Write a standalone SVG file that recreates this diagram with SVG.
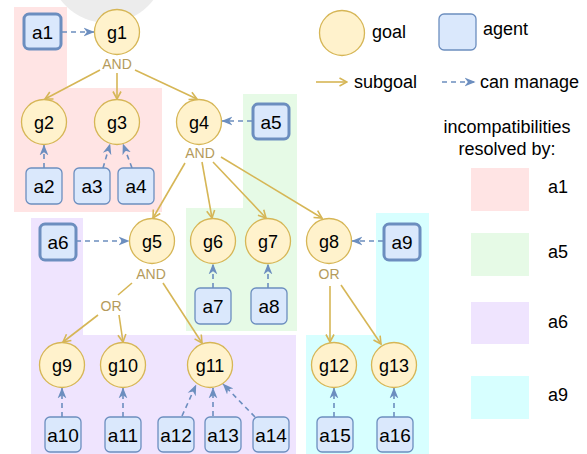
<svg xmlns="http://www.w3.org/2000/svg" width="587" height="454" viewBox="0 0 587 454">
<defs>
<style>
text{font-family:"Liberation Sans",Arial,Helvetica,sans-serif;fill:#000}
.lbl{font-size:18px;text-anchor:middle}
.albl{font-size:19px;text-anchor:middle}
.op{font-size:14px;text-anchor:middle;fill:#b59b5c}
.leg{font-size:18px}
.goal{fill:#fff2cc;stroke:#d6b656;stroke-width:1.3}
.agent{fill:#dae8fc;stroke:#6c8ebf;stroke-width:1.3}
.agentb{fill:#dae8fc;stroke:#6c8ebf;stroke-width:3}
.sub{fill:none;stroke:#d6b656;stroke-width:1.6;marker-end:url(#open)}
.man{fill:none;stroke:#6c8ebf;stroke-width:1.6;stroke-dasharray:5 4;marker-end:url(#classic)}
.pink{fill:#ffe4e4}
.green{fill:#e6fae6}
.purple{fill:#efe4fe}
.cyan{fill:#d7ffff}
</style>
<marker id="open" viewBox="0 0 10 10" refX="9" refY="5" markerWidth="10" markerHeight="10" markerUnits="userSpaceOnUse" orient="auto">
<path d="M1.5,1 L9,5 L1.5,9" fill="none" stroke="#d6b656" stroke-width="1.6"/>
</marker>
<marker id="classic" viewBox="0 0 10 10" refX="9.5" refY="5" markerWidth="11" markerHeight="11" markerUnits="userSpaceOnUse" orient="auto">
<path d="M0,1 L10,5 L0,9 L3,5 Z" fill="#6c8ebf"/>
</marker>
</defs>

<g id="backdrop">
<circle cx="107" cy="-35" r="58" fill="#ececec"/>
</g>

<g id="regions">
<path class="pink" d="M14,7 H67 V88 H162 V212 H14 Z"/>
<path class="green" d="M243,94 H297 V331 H186 V208 H243 Z"/>
<path class="purple" d="M31,218 H83 V335 H296 V454 H31 Z"/>
<path class="cyan" d="M376,213 H429 V454 H306 V335 H376 Z"/>
</g>

<g id="connectors">
<line class="man" x1="62" y1="32" x2="94" y2="32"/>
<line class="sub" x1="100" y1="70" x2="45" y2="99"/>
<line class="sub" x1="117" y1="73" x2="117" y2="99"/>
<line class="sub" x1="135" y1="70" x2="197" y2="99"/>
<line class="man" x1="44" y1="168" x2="44" y2="145"/>
<line class="man" x1="103" y1="168" x2="110" y2="144"/>
<line class="man" x1="132" y1="168" x2="123" y2="144"/>
<line class="man" x1="252" y1="121" x2="222" y2="121"/>
<line class="sub" x1="185" y1="163" x2="153" y2="218"/>
<line class="sub" x1="202" y1="162" x2="212" y2="218"/>
<line class="sub" x1="213" y1="162" x2="266" y2="218"/>
<line class="sub" x1="221" y1="157" x2="322" y2="218"/>
<line class="man" x1="76" y1="241" x2="129" y2="241"/>
<line x1="132" y1="283" x2="118" y2="295" stroke="#d6b656" stroke-width="1.6"/>
<line class="sub" x1="98" y1="315" x2="63" y2="342"/>
<line class="sub" x1="119" y1="315" x2="123" y2="342"/>
<line class="sub" x1="163" y1="283" x2="202" y2="343"/>
<line class="man" x1="213" y1="288" x2="213" y2="264"/>
<line class="man" x1="268" y1="288" x2="268" y2="264"/>
<line class="man" x1="383" y1="241" x2="352" y2="241"/>
<line class="sub" x1="330" y1="286" x2="330" y2="342"/>
<line class="sub" x1="341" y1="285" x2="381" y2="344"/>
<line class="man" x1="62" y1="417" x2="62" y2="388"/>
<line class="man" x1="123" y1="417" x2="123" y2="388"/>
<line class="man" x1="182" y1="416" x2="196" y2="385"/>
<line class="man" x1="213" y1="416" x2="213" y2="388"/>
<line class="man" x1="255" y1="417" x2="223" y2="384"/>
<line class="man" x1="334" y1="417" x2="334" y2="388"/>
<line class="man" x1="394" y1="417" x2="394" y2="388"/>
</g>

<g id="g1"><circle class="goal" cx="117" cy="32" r="22.5"/><text class="lbl" x="117" y="38.5">g1</text><text class="op" x="117" y="69">AND</text></g>
<g id="g2"><circle class="goal" cx="44" cy="122" r="22.5"/><text class="lbl" x="44" y="128.5">g2</text></g>
<g id="g3"><circle class="goal" cx="117" cy="122" r="22.5"/><text class="lbl" x="117" y="128.5">g3</text></g>
<g id="g4"><circle class="goal" cx="199" cy="122" r="22.5"/><text class="lbl" x="199" y="128.5">g4</text><text class="op" x="200" y="158">AND</text></g>
<g id="g5"><circle class="goal" cx="152" cy="241" r="22.5"/><text class="lbl" x="152" y="247.5">g5</text><text class="op" x="151" y="279">AND</text><text class="op" x="111" y="311">OR</text></g>
<g id="g6"><circle class="goal" cx="213" cy="241" r="22.5"/><text class="lbl" x="213" y="247.5">g6</text></g>
<g id="g7"><circle class="goal" cx="268" cy="241" r="22.5"/><text class="lbl" x="268" y="247.5">g7</text></g>
<g id="g8"><circle class="goal" cx="329" cy="241" r="22.5"/><text class="lbl" x="329" y="247.5">g8</text><text class="op" x="329" y="279">OR</text></g>
<g id="g9"><circle class="goal" cx="62" cy="365" r="22.5"/><text class="lbl" x="62" y="371.5">g9</text></g>
<g id="g10"><circle class="goal" cx="123" cy="365" r="22.5"/><text class="lbl" x="123" y="371.5">g10</text></g>
<g id="g11"><circle class="goal" cx="210" cy="365" r="22.5"/><text class="lbl" x="210" y="371.5">g11</text></g>
<g id="g12"><circle class="goal" cx="334" cy="365" r="22.5"/><text class="lbl" x="334" y="371.5">g12</text></g>
<g id="g13"><circle class="goal" cx="394" cy="365" r="22.5"/><text class="lbl" x="394" y="371.5">g13</text></g>

<g id="a1"><rect class="agentb" x="24" y="14" width="37" height="35" rx="5"/><text class="albl" x="42.5" y="38.5">a1</text></g>
<g id="a2"><rect class="agent" x="26" y="168" width="36" height="36" rx="5"/><text class="albl" x="44" y="193">a2</text></g>
<g id="a3"><rect class="agent" x="74" y="168" width="36" height="36" rx="5"/><text class="albl" x="92" y="193">a3</text></g>
<g id="a4"><rect class="agent" x="118" y="168" width="36" height="36" rx="5"/><text class="albl" x="136" y="193">a4</text></g>
<g id="a5"><rect class="agentb" x="253" y="104" width="36" height="35" rx="5"/><text class="albl" x="271" y="128.5">a5</text></g>
<g id="a6"><rect class="agentb" x="40" y="224" width="36" height="36" rx="5"/><text class="albl" x="58" y="249">a6</text></g>
<g id="a7"><rect class="agent" x="195" y="288" width="36" height="36" rx="5"/><text class="albl" x="213" y="313">a7</text></g>
<g id="a8"><rect class="agent" x="251" y="288" width="36" height="36" rx="5"/><text class="albl" x="269" y="313">a8</text></g>
<g id="a9"><rect class="agentb" x="384" y="224" width="36" height="36" rx="5"/><text class="albl" x="402" y="249">a9</text></g>
<g id="a10"><rect class="agent" x="45" y="417" width="36" height="35" rx="5"/><text class="albl" x="63" y="441.5">a10</text></g>
<g id="a11"><rect class="agent" x="105" y="417" width="36" height="35" rx="5"/><text class="albl" x="123" y="441.5">a11</text></g>
<g id="a12"><rect class="agent" x="158" y="417" width="36" height="35" rx="5"/><text class="albl" x="176" y="441.5">a12</text></g>
<g id="a13"><rect class="agent" x="205" y="417" width="36" height="35" rx="5"/><text class="albl" x="223" y="441.5">a13</text></g>
<g id="a14"><rect class="agent" x="253" y="417" width="36" height="35" rx="5"/><text class="albl" x="271" y="441.5">a14</text></g>
<g id="a15"><rect class="agent" x="317" y="417" width="36" height="35" rx="5"/><text class="albl" x="335" y="441.5">a15</text></g>
<g id="a16"><rect class="agent" x="377" y="417" width="36" height="35" rx="5"/><text class="albl" x="395" y="441.5">a16</text></g>

<g id="legend">
<circle class="goal" cx="342" cy="33" r="22.5"/>
<text class="leg" x="372" y="38">goal</text>
<rect class="agent" x="439" y="14" width="37" height="36" rx="5"/>
<text class="leg" x="483" y="35">agent</text>
<line class="sub" x1="316" y1="82" x2="347" y2="82"/>
<text class="leg" x="354" y="88">subgoal</text>
<line class="man" x1="442" y1="82" x2="475" y2="82"/>
<text class="leg" x="480" y="88">can manage</text>
<text class="leg" x="507" y="133" text-anchor="middle">incompatibilities</text>
<text class="leg" x="507" y="155" text-anchor="middle">resolved by:</text>
<rect class="pink" x="471" y="168" width="58" height="43"/>
<text class="leg" x="548" y="193">a1</text>
<rect class="green" x="471" y="233" width="58" height="43"/>
<text class="leg" x="548" y="258">a5</text>
<rect class="purple" x="471" y="302" width="58" height="42"/>
<text class="leg" x="548" y="328">a6</text>
<rect class="cyan" x="471" y="376" width="58" height="43"/>
<text class="leg" x="548" y="401">a9</text>
</g>
</svg>
